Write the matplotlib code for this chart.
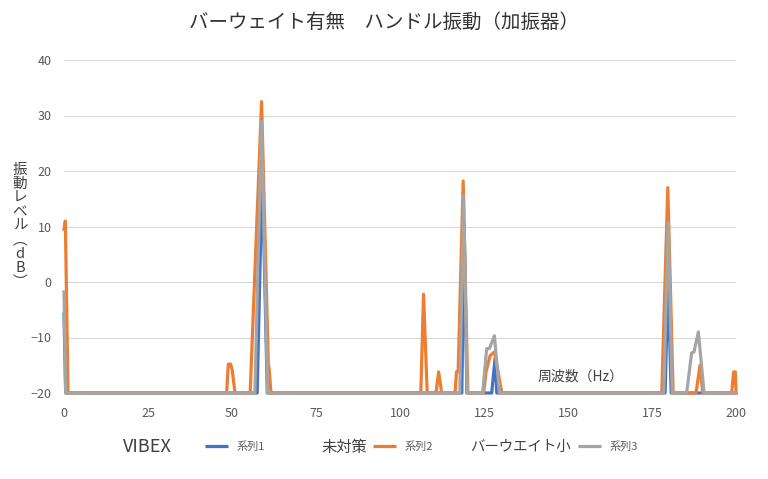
import matplotlib
matplotlib.use("Agg")
import matplotlib.pyplot as plt
from matplotlib.lines import Line2D

plt.rcParams['font.family'] = ['Noto Sans CJK JP', 'DejaVu Sans']

# ---- data (frequency Hz, level dB) ----
s1_freq = [0, 0.5, 57.5, 59.0, 60.5, 118.4, 119.1, 119.9, 127.3, 128.3, 128.8,
           178.9, 179.8, 180.7, 200]
s1_level = [-5.8, -20, -20, 20.6, -20, -20, 10.4, -20, -20, -13.7, -20,
            -20, 0.5, -20, -20]

s2_freq = [0, 0.4, 1.2, 48.4, 48.9, 49.6, 50.1, 50.9, 55.4, 58.8, 60.8, 61.1, 61.6,
           106.2, 107.0, 108.1, 110.7, 111.5, 112.4, 116.4, 116.8, 117.3, 118.8, 120.2,
           124.9, 125.6, 126.8, 128.1, 129.0, 130.3,
           177.9, 179.7, 181.3, 188.1, 189.3, 190.1, 198.7, 199.3, 199.8, 200]
s2_level = [9.5, 11.0, -20, -20, -14.8, -14.8, -16.0, -20, -20, 32.5, -14.5, -16.0, -20,
            -20, -2.2, -20, -20, -16.2, -20, -20, -16.2, -16.2, 18.2, -20,
            -20, -16.2, -13.3, -12.6, -15.5, -20,
            -20, 17.0, -20, -20, -15.0, -20, -20, -16.2, -16.2, -20]

s3_freq = [0, 0.5, 56.8, 58.8, 60.6, 117.8, 118.9, 120.0, 124.6, 125.8, 126.6, 128.1, 129.6,
           178.5, 179.8, 181.0, 185.3, 186.8, 187.5, 188.8, 190.5, 200]
s3_level = [-1.8, -20, -20, 29.0, -20, -20, 15.5, -20, -20, -12.0, -12.0, -9.7, -20,
            -20, 10.7, -20, -20, -12.8, -12.6, -9.0, -20, -20]

series_names = ['系列1', '系列2', '系列3']
group_labels = ['VIBEX', '未対策', 'バーウエイト小']
x_ticks = [0, 25, 50, 75, 100, 125, 150, 175, 200]
y_ticks = [-20, -10, 0, 10, 20, 30, 40]
colors = ['#4472C4', '#ED7D31', '#A5A5A5']

fig = plt.figure(figsize=(7.68, 4.79), dpi=100)
fig.patch.set_facecolor('white')
ax = fig.add_axes([64/768, 1-393/479, 672/768, 333/479])

l1, = ax.plot(s1_freq, s1_level, color=colors[0], lw=2.3, solid_joinstyle='round',
              zorder=3, clip_on=False)
l2, = ax.plot(s2_freq, s2_level, color=colors[1], lw=2.3, solid_joinstyle='round',
              zorder=4, clip_on=False)
l3, = ax.plot(s3_freq, s3_level, color=colors[2], lw=2.3, solid_joinstyle='round',
              zorder=5, clip_on=False)

ax.set_xlim(0, 200)
ax.set_ylim(-20, 40)
ax.set_xticks(x_ticks)
ax.set_yticks(y_ticks)
ax.grid(axis='y', color='#D9D9D9', lw=0.8, zorder=0)
for s in ax.spines.values():
    s.set_visible(False)
ax.tick_params(axis='both', length=0, labelsize=9, labelcolor='#595959')
ax.tick_params(axis='x', pad=10)
ax.tick_params(axis='y', pad=9)

fig.text(0.5, 1-22/479, 'バーウェイト有無　ハンドル振動（加振器）', ha='center', va='center',
         fontsize=14, color='#333333')

ylab = '\n'.join(['振', '動', 'レ', 'ベ', 'ル', '︵', 'd', 'B', '︶'])
fig.text(20/768, 1-226/479, ylab, ha='center', va='center', fontsize=10.5,
         color='#404040', linespacing=1.0)

ax.text(153.6, -17.1, '周波数（Hz）', ha='center', va='center', fontsize=10, color='#404040')

# legend pieces
handles = [l1, l2, l3]
leg_x = [205/768, 373/768, 578/768]
for h, name, lx in zip(handles, series_names, leg_x):
    fig.legend([Line2D([], [], color=h.get_color(), lw=2.3, solid_capstyle='butt')], [name],
               loc='center left', bbox_to_anchor=(lx, 1-447/479), frameon=False,
               fontsize=8, handlelength=2.1, handletextpad=0.75, borderpad=0,
               borderaxespad=0, labelcolor='#595959')
label_x = [123/768, 322/768, 470/768]
label_size = [13, 11, 10.4]
for gl, gx, gs in zip(group_labels, label_x, label_size):
    fig.text(gx, 1-447/479, gl, ha='left', va='center', fontsize=gs, color='#404040')

fig.savefig('out.png', dpi=100, facecolor='white')
